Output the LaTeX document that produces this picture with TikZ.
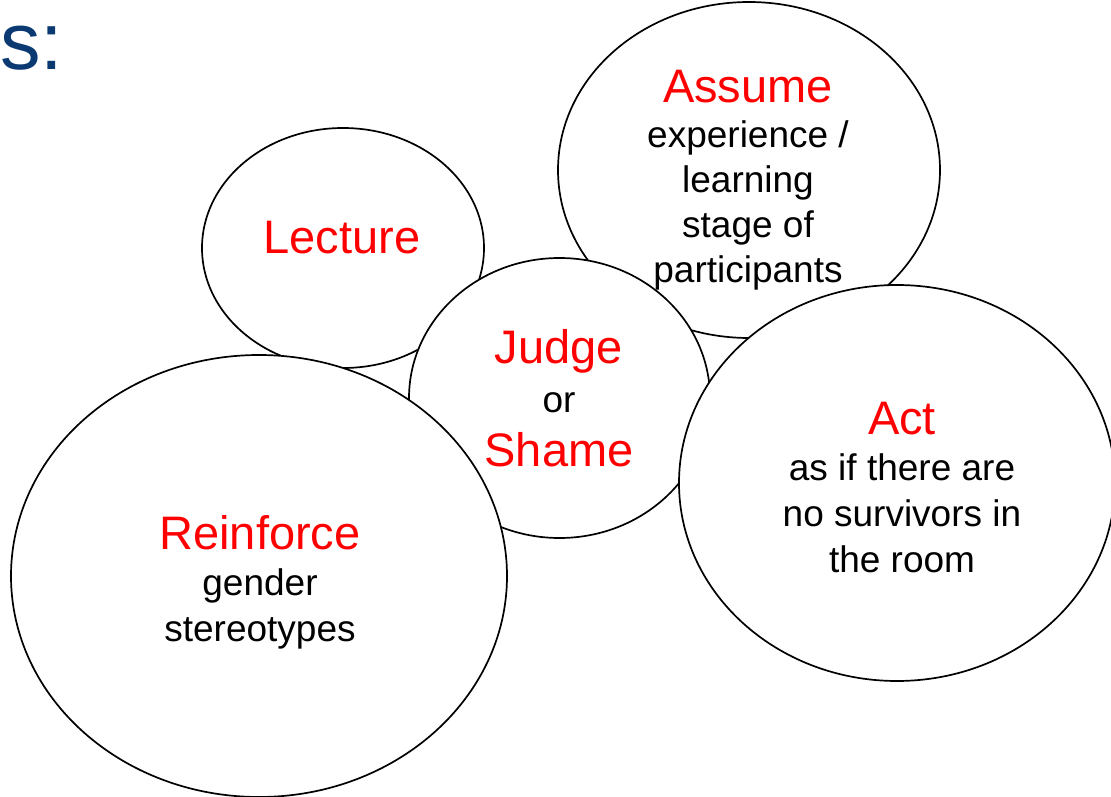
\documentclass[tikz,border=0pt]{standalone}
\usepackage{fontspec}
\setmainfont{Liberation Sans}
\usetikzlibrary{shapes.geometric}
\definecolor{titleblue}{RGB}{11,58,115}
\definecolor{headred}{RGB}{255,0,0}
\newcommand{\headline}[1]{{\color{headred}\fontsize{47}{46}\selectfont #1}}
\begin{document}
\begin{tikzpicture}[x=1pt,y=-1pt,
  bubble/.style={ellipse, draw=black, fill=white, line width=1.7pt, inner sep=0pt},
  bubbletext/.style={anchor=base, align=center, inner sep=0pt, text=black,
    font=\fontsize{37}{46}\selectfont},
  titletext/.style={anchor=base west, inner sep=0pt, text=titleblue,
    font=\fontsize{81}{90}\selectfont}]
\useasboundingbox (0,0) rectangle (1111,797);
\node[titletext] (title) at (0,70) {s:};
% bubbles, back to front
\node[bubble, minimum width=282pt, minimum height=240pt] (lecture) at (343,248) {};
\node[bubble, minimum width=382pt, minimum height=336pt] (assume) at (749,170) {};
\node[bubble, minimum width=301pt, minimum height=280pt] (judge) at (559.5,398) {};
\node[bubble, minimum width=436pt, minimum height=396pt] (act) at (897,483) {};
\node[bubble, minimum width=496pt, minimum height=442pt] (reinforce) at (259,576) {};
% texts (base anchor = baseline of the last line)
\node[bubbletext] (lecturetxt) at (342,253) {\headline{Lecture}};
\node[bubbletext, font=\fontsize{37}{45}\selectfont] (assumetxt) at (748,282) {\headline{Assume}\\experience /\\learning\\stage of\\participants};
\node[bubbletext, font=\fontsize{37}{49}\selectfont] (judgetxt) at (559,466) {\headline{Judge}\\or\\[5pt]\headline{Shame}};
\node[bubbletext] (acttxt) at (902,572) {\headline{Act}\\as if there are\\no survivors in\\the room};
\node[bubbletext] (reinforcetxt) at (260,641) {\headline{Reinforce}\\gender\\stereotypes};
\end{tikzpicture}
\end{document}
